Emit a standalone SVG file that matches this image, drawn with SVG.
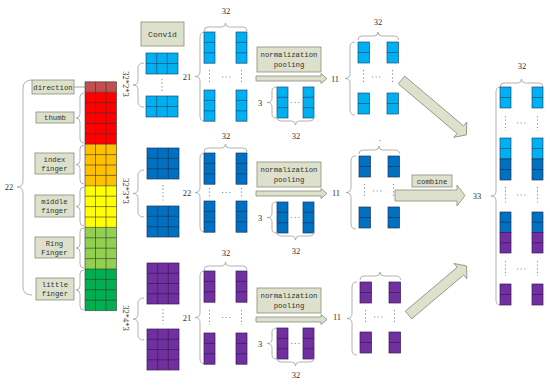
<svg xmlns="http://www.w3.org/2000/svg" width="550" height="388" viewBox="0 0 550 388">
<defs><style>
.lb{fill:#00B0F0;stroke:#1F4E79;stroke-width:0.7}
.db{fill:#0070C0;stroke:#1A3560;stroke-width:0.7}
.pu{fill:#7030A0;stroke:#3A1858;stroke-width:0.7}
.br{fill:none;stroke:#A0A0A0;stroke-width:0.8}
.bx{fill:#DDE1CB;stroke:#8A8C7E;stroke-width:0.8}
.t{font-family:"Liberation Mono",monospace;font-size:7.3px;fill:#333;text-anchor:middle}
.n{font-family:"Liberation Serif",serif;font-size:8.5px;fill:#333;text-anchor:middle}
.d{stroke:#909090;stroke-width:1.1;stroke-dasharray:1.2 2.4;fill:none}
.g{fill:none;stroke:#333;stroke-width:0.6}
</style></defs>
<rect width="550" height="388" fill="#fff"/>

<g id="input-bar">
<path class="br" d="M32,80 Q23,80 23,88 L23,181 Q23,187 17,187 Q23,187 23,193 L23,287 Q23,295 32,295"/>
<text class="n" x="9" y="190">22</text>
<rect x="85" y="81.8" width="31.5" height="10.4" fill="#C0504D"/>
<rect x="85" y="92.2" width="31.5" height="52" fill="#FF0000"/>
<rect x="85" y="144.2" width="31.5" height="41.6" fill="#FFC000"/>
<rect x="85" y="185.8" width="31.5" height="41.6" fill="#FFFF00"/>
<rect x="85" y="227.4" width="31.5" height="41.6" fill="#92D050"/>
<rect x="85" y="269" width="31.5" height="41.6" fill="#00B050"/>
<path class="g" d="M85,81.8h31.5M85,92.2h31.5M85,102.6h31.5M85,113h31.5M85,123.4h31.5M85,133.8h31.5M85,144.2h31.5M85,154.6h31.5M85,165h31.5M85,175.4h31.5M85,185.8h31.5M85,196.2h31.5M85,206.6h31.5M85,217h31.5M85,227.4h31.5M85,237.8h31.5M85,248.2h31.5M85,258.6h31.5M85,269h31.5M85,279.4h31.5M85,289.8h31.5M85,300.2h31.5M85,310.6h31.5M85,81.8V310.6M95.5,81.8V310.6M106,81.8V310.6M116.5,81.8V310.6"/>
</g>

<g id="label-direction">
<rect class="bx" x="32" y="80" width="42" height="14"/>
<text class="t" x="53" y="89.5">direction</text>
<line x1="74" y1="87" x2="85" y2="87" stroke="#8A8C7E" stroke-width="0.8"/>
</g>
<g id="label-thumb">
<rect class="bx" x="36" y="112" width="38" height="11"/>
<text class="t" x="55" y="120">thumb</text>
<path class="br" d="M84,93 Q80,93 80,97 L80,114 Q80,118 76,118 Q80,118 80,122 L80,139 Q80,143 84,143"/>
</g>
<g id="label-index">
<rect class="bx" x="35" y="153" width="39" height="21"/>
<text class="t" x="54.5" y="161.5">index</text>
<text class="t" x="54.5" y="171">finger</text>
<path class="br" d="M84,145 Q80,145 80,149 L80,160.5 Q80,164.5 76,164.5 Q80,164.5 80,168.5 L80,180 Q80,184 84,184"/>
</g>
<g id="label-middle">
<rect class="bx" x="35" y="195" width="39" height="22"/>
<text class="t" x="54.5" y="203.5">middle</text>
<text class="t" x="54.5" y="213">finger</text>
<path class="br" d="M84,187 Q80,187 80,191 L80,202.5 Q80,206.5 76,206.5 Q80,206.5 80,210.5 L80,222 Q80,226 84,226"/>
</g>
<g id="label-ring">
<rect class="bx" x="35" y="237" width="39" height="21"/>
<text class="t" x="54.5" y="245.5">Ring</text>
<text class="t" x="54.5" y="255">Finger</text>
<path class="br" d="M84,228 Q80,228 80,232 L80,244 Q80,248 76,248 Q80,248 80,252 L80,264 Q80,268 84,268"/>
</g>
<g id="label-little">
<rect class="bx" x="36" y="278" width="38" height="22"/>
<text class="t" x="55" y="286.5">little</text>
<text class="t" x="55" y="296">finger</text>
<path class="br" d="M84,270 Q80,270 80,274 L80,286 Q80,290 76,290 Q80,290 80,294 L80,306 Q80,310 84,310"/>
</g>

<g id="conv1d-label">
<rect class="bx" x="141" y="22" width="43" height="24"/>
<text class="t" x="162.5" y="37" style="font-size:8px">Conv1d</text>
</g>

<g id="kernel-1">
<path class="br" d="M144,63 Q138,63 138,68 L138,80 Q138,85 133,85 Q138,85 138,90 L138,102 Q138,107 144,107"/>
<text class="n" transform="translate(123,84) rotate(90)">32*2*3</text>
<rect class="lb" x="146" y="53" width="32" height="21"/><path class="lb" d="M156.7,53V74M167.3,53V74M146,63.5H178"/>
<rect class="lb" x="146" y="96" width="32" height="21"/><path class="lb" d="M156.7,96V117M167.3,96V117M146,106.5H178"/>
<path class="d" d="M162,79V92"/>
</g>
<g id="kernel-2">
<path class="br" d="M144,170 Q138,170 138,175 L138,188.5 Q138,193.5 133,193.5 Q138,193.5 138,198.5 L138,212 Q138,217 144,217"/>
<text class="n" transform="translate(123,191) rotate(90)">32*3*3</text>
<rect class="db" x="147" y="148" width="32" height="31"/><path class="db" d="M157.7,148V179M168.3,148V179M147,158.3H179M147,168.7H179"/>
<rect class="db" x="147" y="206" width="32" height="31"/><path class="db" d="M157.7,206V237M168.3,206V237M147,216.3H179M147,226.7H179"/>
<path class="d" d="M163,185V201"/>
</g>
<g id="kernel-3">
<path class="br" d="M144,298 Q138,298 138,303 L138,314 Q138,319 133,319 Q138,319 138,324 L138,335 Q138,340 144,340"/>
<text class="n" transform="translate(123,318) rotate(90)">32*4*3</text>
<rect class="pu" x="147" y="263" width="32" height="41"/><path class="pu" d="M157.7,263V304M168.3,263V304M147,273.25H179M147,283.5H179M147,293.75H179"/>
<rect class="pu" x="147" y="329" width="32" height="41"/><path class="pu" d="M157.7,329V370M168.3,329V370M147,339.25H179M147,349.5H179M147,359.75H179"/>
<path class="d" d="M163,309V324"/>
</g>

<g id="conv-out-1">
<path class="br" d="M205,32 Q200,32 200,37 L200,71.5 Q200,76.5 195,76.5 Q200,76.5 200,81.5 L200,116 Q200,121 205,121"/>
<text class="n" x="187" y="79.5">21</text>
<path class="br" d="M204,31 Q204,27 208,27 L221.5,27 Q225.5,27 225.5,23 Q225.5,27 229.5,27 L243,27 Q247,27 247,31"/>
<text class="n" x="226" y="14">32</text>
<rect class="lb" x="204" y="32" width="11" height="31.2"/><path class="lb" d="M204,42.4h11M204,52.8h11"/>
<rect class="lb" x="236" y="32" width="11" height="31.2"/><path class="lb" d="M236,42.4h11M236,52.8h11"/>
<rect class="lb" x="204" y="90" width="11" height="31.2"/><path class="lb" d="M204,100.4h11M204,110.8h11"/>
<rect class="lb" x="236" y="90" width="11" height="31.2"/><path class="lb" d="M236,100.4h11M236,110.8h11"/>
<path class="d" d="M209.5,70V84M241.5,70V84M222,77H232"/>
</g>
<g id="conv-out-2">
<path class="br" d="M205,153 Q200,153 200,158 L200,187.5 Q200,192.5 195,192.5 Q200,192.5 200,197.5 L200,227 Q200,232 205,232"/>
<text class="n" x="187" y="195.5">22</text>
<path class="br" d="M204,152 Q204,148 208,148 L221.5,148 Q225.5,148 225.5,144 Q225.5,148 229.5,148 L243,148 Q247,148 247,152"/>
<text class="n" x="226" y="139">32</text>
<rect class="db" x="204" y="153" width="11" height="31.2"/><path class="db" d="M204,163.4h11M204,173.8h11"/>
<rect class="db" x="236" y="153" width="11" height="31.2"/><path class="db" d="M236,163.4h11M236,173.8h11"/>
<rect class="db" x="204" y="201" width="11" height="31.2"/><path class="db" d="M204,211.4h11M204,221.8h11"/>
<rect class="db" x="236" y="201" width="11" height="31.2"/><path class="db" d="M236,211.4h11M236,221.8h11"/>
<path class="d" d="M209.5,188V199M241.5,188V199M222,192.5H232"/>
</g>
<g id="conv-out-3">
<path class="br" d="M205,271 Q200,271 200,276 L200,312.5 Q200,317.5 195,317.5 Q200,317.5 200,322.5 L200,359 Q200,364 205,364"/>
<text class="n" x="187" y="320.5">21</text>
<path class="br" d="M204,270 Q204,266 208,266 L221.5,266 Q225.5,266 225.5,262 Q225.5,266 229.5,266 L243,266 Q247,266 247,270"/>
<text class="n" x="226" y="256">32</text>
<rect class="pu" x="204" y="271" width="11" height="31.2"/><path class="pu" d="M204,281.4h11M204,291.8h11"/>
<rect class="pu" x="236" y="271" width="11" height="31.2"/><path class="pu" d="M236,281.4h11M236,291.8h11"/>
<rect class="pu" x="204" y="333" width="11" height="31.2"/><path class="pu" d="M204,343.4h11M204,353.8h11"/>
<rect class="pu" x="236" y="333" width="11" height="31.2"/><path class="pu" d="M236,343.4h11M236,353.8h11"/>
<path class="d" d="M209.5,310V325M241.5,310V325M222,317.5H232"/>
</g>

<g id="pool-1">
<rect class="bx" x="257" y="47" width="64" height="25"/>
<text class="t" x="289" y="57">normalization</text>
<text class="t" x="289" y="67">pooling</text>
<text class="n" x="260" y="105.5">3</text>
<path class="br" d="M277,87 Q272,87 272,91 L272,98.5 Q272,102.5 267,102.5 Q272,102.5 272,106.5 L272,114 Q272,118 277,118"/>
<rect class="lb" x="277" y="87" width="11" height="31"/><path class="lb" d="M277,97.3h11M277,107.7h11"/>
<rect class="lb" x="303" y="87" width="11" height="31"/><path class="lb" d="M303,97.3h11M303,107.7h11"/>
<path class="d" d="M291,102.5H301"/>
<path class="br" d="M277,117 Q277,121 281,121 L291.5,121 Q295.5,121 295.5,125 Q295.5,121 299.5,121 L310,121 Q314,121 314,117"/>
<text class="n" x="296" y="139">32</text>
</g>
<g id="pool-2" transform="translate(0,115)">
<rect class="bx" x="257" y="47" width="64" height="25"/>
<text class="t" x="289" y="57">normalization</text>
<text class="t" x="289" y="67">pooling</text>
<text class="n" x="260" y="105.5">3</text>
<path class="br" d="M277,87 Q272,87 272,91 L272,98.5 Q272,102.5 267,102.5 Q272,102.5 272,106.5 L272,114 Q272,118 277,118"/>
<rect class="db" x="277" y="87" width="11" height="31"/><path class="db" d="M277,97.3h11M277,107.7h11"/>
<rect class="db" x="303" y="87" width="11" height="31"/><path class="db" d="M303,97.3h11M303,107.7h11"/>
<path class="d" d="M291,102.5H301"/>
<path class="br" d="M277,117 Q277,121 281,121 L291.5,121 Q295.5,121 295.5,125 Q295.5,121 299.5,121 L310,121 Q314,121 314,117"/>
<text class="n" x="296" y="139">32</text>
</g>
<g id="pool-3" transform="translate(0,241)">
<rect class="bx" x="257" y="47" width="64" height="25"/>
<text class="t" x="289" y="57">normalization</text>
<text class="t" x="289" y="67">pooling</text>
<text class="n" x="260" y="105.5">3</text>
<path class="br" d="M277,87 Q272,87 272,91 L272,98.5 Q272,102.5 267,102.5 Q272,102.5 272,106.5 L272,114 Q272,118 277,118"/>
<rect class="pu" x="277" y="87" width="11" height="31"/><path class="pu" d="M277,97.3h11M277,107.7h11"/>
<rect class="pu" x="303" y="87" width="11" height="31"/><path class="pu" d="M303,97.3h11M303,107.7h11"/>
<path class="d" d="M291,102.5H301"/>
<path class="br" d="M277,117 Q277,121 281,121 L291.5,121 Q295.5,121 295.5,125 Q295.5,121 299.5,121 L310,121 Q314,121 314,117"/>
<text class="n" x="296" y="137">32</text>
</g>

<g id="pooled-1">
<path class="br" d="M355,42 Q350,42 350,47 L350,73.5 Q350,78.5 345,78.5 Q350,78.5 350,83.5 L350,110 Q350,115 355,115"/>
<text class="n" x="335" y="82">11</text>
<path class="br" d="M358,40 Q358,36 362,36 L374,36 Q378,36 378,32 Q378,36 382,36 L394,36 Q398.5,36 398.5,40"/>
<text class="n" x="378" y="25">32</text>
<rect class="lb" x="358" y="42" width="11.5" height="21"/><path class="lb" d="M358,52.5h11.5"/>
<rect class="lb" x="387" y="42" width="11.5" height="21"/><path class="lb" d="M387,52.5h11.5"/>
<rect class="lb" x="358" y="93" width="11.5" height="21"/><path class="lb" d="M358,103.5h11.5"/>
<rect class="lb" x="387" y="93" width="11.5" height="21"/><path class="lb" d="M387,103.5h11.5"/>
<path class="d" d="M363.5,70V84M392.5,70V84M372,77H382"/>
</g>
<g id="pooled-2" transform="translate(1,114)">
<path class="br" d="M355,42 Q350,42 350,47 L350,73.5 Q350,78.5 345,78.5 Q350,78.5 350,83.5 L350,110 Q350,115 355,115"/>
<text class="n" x="335" y="82">11</text>
<path class="br" d="M358,40 Q358,36 362,36 L374,36 Q378,36 378,32 Q378,36 382,36 L394,36 Q398.5,36 398.5,40"/>
<text class="n" x="379" y="27">.</text>
<rect class="db" x="358" y="42" width="11.5" height="21"/><path class="db" d="M358,52.5h11.5"/>
<rect class="db" x="387" y="42" width="11.5" height="21"/><path class="db" d="M387,52.5h11.5"/>
<rect class="db" x="358" y="93" width="11.5" height="21"/><path class="db" d="M358,103.5h11.5"/>
<rect class="db" x="387" y="93" width="11.5" height="21"/><path class="db" d="M387,103.5h11.5"/>
<path class="d" d="M363.5,70V84M392.5,70V84M372,77H382"/>
</g>
<g id="pooled-3" transform="translate(2,240)">
<path class="br" d="M355,42 Q350,42 350,47 L350,73.5 Q350,78.5 345,78.5 Q350,78.5 350,83.5 L350,110 Q350,115 355,115"/>
<text class="n" x="335" y="80">11</text>
<path class="br" d="M358,40 Q358,36 362,36 L374,36 Q378,36 378,32 Q378,36 382,36 L394,36 Q398.5,36 398.5,40"/>
<rect class="pu" x="358" y="42" width="11.5" height="21"/><path class="pu" d="M358,52.5h11.5"/>
<rect class="pu" x="387" y="42" width="11.5" height="21"/><path class="pu" d="M387,52.5h11.5"/>
<rect class="pu" x="358" y="92" width="11.5" height="21"/><path class="pu" d="M358,102.5h11.5"/>
<rect class="pu" x="387" y="92" width="11.5" height="21"/><path class="pu" d="M387,102.5h11.5"/>
<path class="d" d="M363.5,70V84M392.5,70V84M372,77H382"/>
</g>

<g id="combined">
<path class="br" d="M501,87 Q496,87 496,92 L496,191 Q496,196 491,196 Q496,196 496,201 L496,300 Q496,305 501,305"/>
<text class="n" x="477" y="198.5">33</text>
<path class="br" d="M500,87 Q500,83 504,83 L517.5,83 Q521.5,83 521.5,79 Q521.5,83 525.5,83 L539,83 Q543,83 543,87"/>
<text class="n" x="522" y="69">32</text>
<rect class="lb" x="500" y="87" width="11" height="21"/><path class="lb" d="M500,97.5h11"/>
<rect class="lb" x="532" y="87" width="11" height="21"/><path class="lb" d="M532,97.5h11"/>
<rect class="lb" x="500" y="138" width="11" height="21"/><path class="lb" d="M500,148.5h11"/>
<rect class="lb" x="532" y="138" width="11" height="21"/><path class="lb" d="M532,148.5h11"/>
<rect class="db" x="500" y="159" width="11" height="21"/><path class="db" d="M500,169.5h11"/>
<rect class="db" x="532" y="159" width="11" height="21"/><path class="db" d="M532,169.5h11"/>
<rect class="db" x="500" y="212" width="11" height="20.5"/><path class="db" d="M500,222.25h11"/>
<rect class="db" x="532" y="212" width="11" height="20.5"/><path class="db" d="M532,222.25h11"/>
<rect class="pu" x="500" y="232.5" width="11" height="20.5"/><path class="pu" d="M500,242.75h11"/>
<rect class="pu" x="532" y="232.5" width="11" height="20.5"/><path class="pu" d="M532,242.75h11"/>
<rect class="pu" x="500" y="284" width="11" height="21"/><path class="pu" d="M500,294.5h11"/>
<rect class="pu" x="532" y="284" width="11" height="21"/><path class="pu" d="M532,294.5h11"/>
<path class="d" d="M505.5,116V131M537.5,116V131M517,123H528M505.5,187V203M537.5,187V203M517,195H528M505.5,261V276M537.5,261V276M517,269H528"/>
</g>

<g id="connectors">
<polygon class="bx" points="256,76 321,76 321,73.5 327,78.5 321,83.5 321,81 256,81"/>
<polygon class="bx" points="256,191 321,191 321,188.5 327,193.5 321,198.5 321,196 256,196"/>
<polygon class="bx" points="256,317 321,317 321,314.5 327,319.5 321,324.5 321,322 256,322"/>
<polygon class="bx" transform="translate(401.5,80) rotate(40.2)" points="0,-5 77,-5 77,-10 85,0 77,10 77,5 0,5"/>
<polygon class="bx" points="395,190 457,190 457,185 465,195.5 457,206 457,201 395,201"/>
<polygon class="bx" transform="translate(408.5,315) rotate(-40.2)" points="0,-5 68,-5 68,-10 76,0 68,10 68,5 0,5"/>
<rect class="bx" x="412" y="175" width="40" height="12"/>
<text class="t" x="432" y="183.8">combine</text>
</g>
</svg>
